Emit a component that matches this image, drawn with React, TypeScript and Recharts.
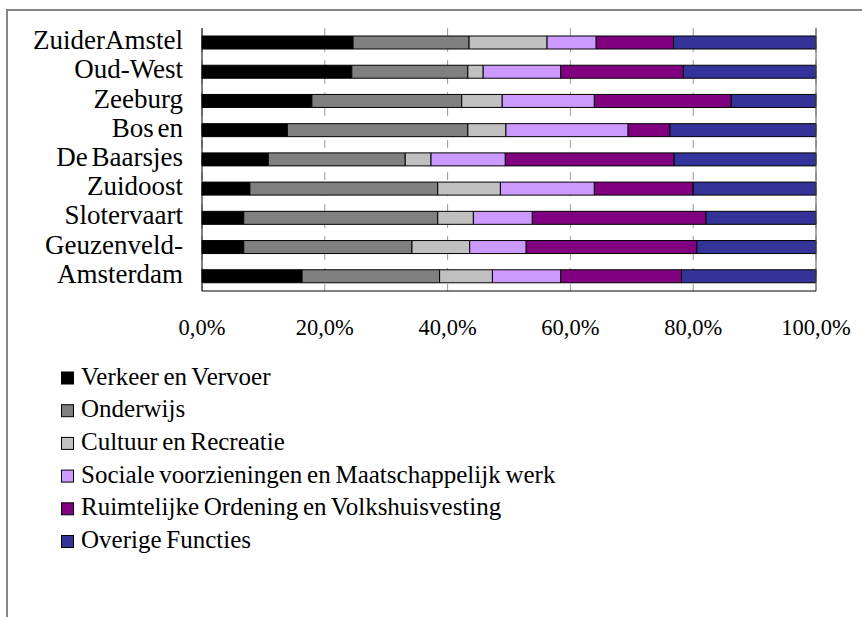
import React from 'react';
import { BarChart, Bar, XAxis, YAxis, CartesianGrid, ReferenceLine, Legend } from 'recharts';

const categories = ['ZuiderAmstel', 'Oud-West', 'Zeeburg', 'Bos en', 'De Baarsjes', 'Zuidoost', 'Slotervaart', 'Geuzenveld-', 'Amsterdam'];
const seriesNames = [
  'Verkeer en Vervoer',
  'Onderwijs',
  'Cultuur en Recreatie',
  'Sociale voorzieningen en Maatschappelijk werk',
  'Ruimtelijke Ordening en Volkshuisvesting',
  'Overige Functies',
];
const seriesColors = ['#000000', '#808080', '#C0C0C0', '#CC99FF', '#800080', '#333399'];
const verkeer = [24.6, 24.4, 17.9, 13.9, 10.8, 7.8, 6.8, 6.8, 16.3];
const onderwijs = [18.9, 18.9, 24.4, 29.4, 22.3, 30.6, 31.6, 27.4, 22.4];
const cultuur = [12.7, 2.5, 6.6, 6.2, 4.2, 10.2, 5.8, 9.4, 8.6];
const sociale = [8.0, 12.6, 15.0, 19.9, 12.1, 15.3, 9.6, 9.2, 11.1];
const ruimtelijke = [12.6, 20.0, 22.3, 6.8, 27.5, 16.1, 28.3, 27.8, 19.7];
const overige = [23.2, 21.6, 13.8, 23.8, 23.1, 20.0, 17.9, 19.4, 21.9];
const xTicks = [0, 20, 40, 60, 80, 100];

const seriesValues = [verkeer, onderwijs, cultuur, sociale, ruimtelijke, overige];
const seriesKeys = ['s0', 's1', 's2', 's3', 's4', 's5'];

const data = categories.map((name, i) => {
  const row: any = { name };
  seriesKeys.forEach((k, j) => {
    row[k] = seriesValues[j][i];
  });
  return row;
});

const FONT = '"Liberation Serif", "Times New Roman", serif';

const fmt = (v: number) => `${v.toFixed(1).replace('.', ',')}%`;

const CatTick = (props: any) => {
  const { x, y, payload } = props;
  return (
    <text x={x} y={y} dy={6.5} textAnchor="end" fontFamily={FONT} fontSize={27} wordSpacing={-3} fill="#000">
      {payload.value}
    </text>
  );
};

const ValTick = (props: any) => {
  const { x, y, payload } = props;
  return (
    <text x={x} y={y} dy={44} textAnchor="middle" fontFamily={FONT} fontSize={22.5} fill="#000">
      {fmt(payload.value)}
    </text>
  );
};

const renderLegend = () => (
  <svg width={700} height={220} style={{ display: 'block' }}>
    {seriesNames.map((n, i) => {
      const base = 34.5 + i * 32.7;
      return (
        <g key={n}>
          <rect x={61.5} y={base - 12.5} width={12} height={12} fill={seriesColors[i]} stroke="#000" strokeWidth={1} />
          <text x={81} y={base} fontFamily={FONT} fontSize={25} wordSpacing={-1.5} fill="#000">
            {n}
          </text>
        </g>
      );
    })}
  </svg>
);

export default function App() {
  return (
    <div style={{ position: 'fixed', left: 0, top: 0, width: 862, height: 617, overflow: 'hidden', background: '#fff' }}>
      <div
        style={{
          position: 'absolute',
          left: 6,
          top: 9,
          width: 900,
          height: 700,
          borderLeft: '2px solid #868686',
          borderTop: '2px solid #868686',
        }}
      />
      <div style={{ position: 'absolute', left: 0, top: 0 }}>
        <BarChart
          width={862}
          height={617}
          data={data}
          layout="vertical"
          margin={{ top: 28, right: 46, bottom: 296, left: 0 }}
          barCategoryGap="50%"
        >
          <CartesianGrid horizontal={false} vertical stroke="#9a9a9a" strokeDasharray="8 8" />
          <XAxis
            type="number"
            domain={[0, 100]}
            ticks={xTicks}
            height={30}
            axisLine={{ stroke: '#000', strokeWidth: 1 }}
            tickLine={false}
            tickSize={0}
            tickMargin={0}
            tick={<ValTick />}
            interval={0}
          />
          <XAxis
            xAxisId="top"
            orientation="top"
            type="number"
            domain={[0, 100]}
            height={0}
            axisLine={{ stroke: '#8a8a8a', strokeWidth: 1 }}
            tick={false}
            tickLine={false}
          />
          <YAxis
            type="category"
            dataKey="name"
            width={202}
            axisLine={{ stroke: '#000', strokeWidth: 1 }}
            tickLine={false}
            tickSize={0}
            tickMargin={19}
            tick={<CatTick />}
            interval={0}
          />
          {seriesKeys.map((k, j) => (
            <Bar
              key={k}
              dataKey={k}
              name={seriesNames[j]}
              stackId="a"
              fill={seriesColors[j]}
              stroke="#000"
              strokeWidth={1}
              barSize={13}
              isAnimationActive={false}
            />
          ))}
          <ReferenceLine x={100} stroke="#555" strokeWidth={1} />
          <Legend
            layout="vertical"
            align="center"
            verticalAlign="middle"
            content={renderLegend}
            wrapperStyle={{ left: 0, top: 350, width: 700, height: 220 }}
          />
        </BarChart>
      </div>
    </div>
  );
}
